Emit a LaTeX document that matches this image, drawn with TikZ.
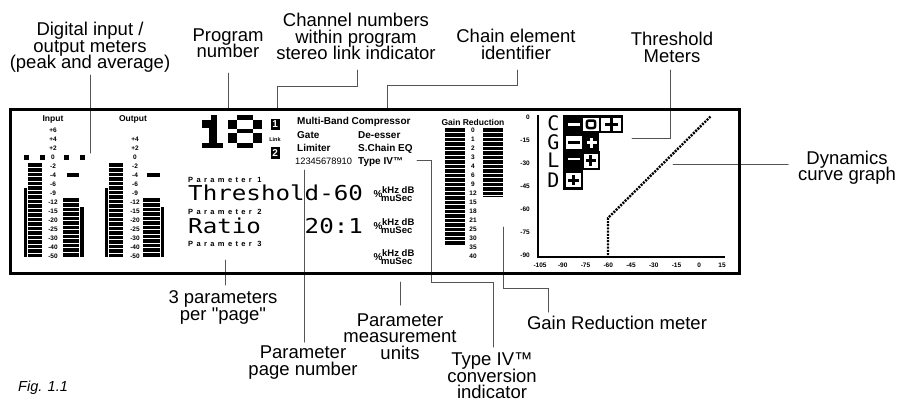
\documentclass[tikz,border=0pt]{standalone}
\usepackage{fontspec}
\setmainfont{Liberation Sans}
\newfontfamily\lblfont[Ligatures=TeXOff]{Liberation Sans}
\newfontfamily\lcdfont[FakeStretch=1.18]{DejaVu Sans Mono}
\newfontfamily\lcdnarrow{DejaVu Sans Mono}
\usetikzlibrary{calc}
\usepackage{tkz-euclide}
\definecolor{LeaderClr}{rgb}{0.33,0.33,0.33}

% segmented bar: x1,y1,x2,y2
\newcommand\lcdbar[4]{%
  \fill (#1,#2) rectangle (#3,#4);
  \pgfmathtruncatemacro\nseg{(#4-#2-1)/4.5}
  \foreach \k in {1,...,\nseg}
    \draw[white,line width=0.7pt] (#1,#2+4.5*\k) -- (#3,#2+4.5*\k);}
% plus and minus signs: centre x, centre y, half length, colour
\newcommand\lcdplus[4]{%
  \fill[#4] (#1-#3,#2-1.5) rectangle (#1+#3,#2+1.5);
  \fill[#4] (#1-1.5,#2-#3) rectangle (#1+1.5,#2+#3);}
\newcommand\lcdminus[3]{%
  \fill[#3] (#1-6,#2-1.3) rectangle (#1+6,#2+1.3);}

\begin{document}
\begin{tikzpicture}[x=1pt,y=-1pt,
  lbl/.style={align=center,inner sep=0pt,font={\lblfont\fontsize{18.5}{17.5}\selectfont}},
  scl/.style={inner sep=0pt,font=\bfseries\fontsize{6.5}{7}\selectfont},
  hdr/.style={inner sep=0pt,font=\bfseries\fontsize{8.5}{9}\selectfont},
  chain/.style={inner sep=0pt,anchor=base west,font=\bfseries\fontsize{10}{11}\selectfont},
  lcd/.style={inner sep=0pt,anchor=base west,font=\lcdfont\fontsize{20.5}{21}\selectfont},
  parm/.style={inner sep=0pt,anchor=base west,font=\bfseries\fontsize{7.5}{8}\selectfont\addfontfeature{LetterSpace=45}},
  unit/.style={inner sep=0pt,anchor=base west,font=\bfseries\fontsize{10}{10}\selectfont}]
\useasboundingbox (0,0) rectangle (900,402);

\tkzSetUpLine[line width=1pt,color=LeaderClr]

% leader points
\tkzDefPoints{90/75/D1,90/153/D2,228/73/P1,228/109/P2}
\tkzDefPoints{357/70/C1,357/86/C2,277/86/C3,277/109/C4}
\tkzDefPoints{517/70/E1,517/85/E2,387/85/E3,387/109/E4}
\tkzDefPoints{670/70/T1,670/138/T2,632/138/T3,788/164/Y1,673/164/Y2}
\tkzDefPoints{225/285/A1,225/260/A2,304/342/N1,304/170/N2,400/305/U1,400/282/U2}
\tkzDefPoints{493/347/V1,493/282/V2,431/282/V3,431/160/V4,417/160/V5}
\tkzDefPoints{548/312/G1,548/288/G2,503/288/G3,503/227/G4}
% graph points
\tkzDefPoints{538/115/Ytop,538/257/Orig,725/257/Xend}
\tkzDefPoints{608/255/K0,608/218/K1,711/116/K2}

\tkzDrawSegments(D1,D2 P1,P2 A1,A2 N1,N2 U1,U2 Y1,Y2)
\tkzDrawPolySeg(C1,C2,C3,C4)
\tkzDrawPolySeg(E1,E2,E3,E4)
\tkzDrawPolySeg(T1,T2,T3)
\tkzDrawPolySeg(V1,V2,V3,V4,V5)
\tkzDrawPolySeg(G1,G2,G3,G4)

\draw[line width=3pt] (10,109) rectangle (739,273);

% input / output meters
\node[hdr] (hIn) at (53,119) {Input};
\node[hdr] (hOut) at (133,119) {Output};
\foreach \v [count=\i from 0] in {+6,+4,+2,0,-2,-4,-6,-9,-12,-15,-20,-25,-30,-40,-50}
  \node[scl] (in\i) at (53,130+9*\i) {\v};
\foreach \v [count=\i from 1] in {+4,+2,0,-2,-4,-6,-9,-12,-15,-20,-25,-30,-40,-50}
  \node[scl] (out\i) at (135,130+9*\i) {\v};
\foreach \xx in {24,40,64,80}
  \fill (\xx,155) rectangle ++(4.5,4.5);
\fill (24,188) rectangle (27.3,257);
\lcdbar{28.3}{163}{41.7}{257}
\fill (66.7,173) rectangle (79.3,176.5);
\lcdbar{63.3}{198}{79.3}{257}
\fill (80.3,207) rectangle (83.5,257);
\fill (105,188) rectangle (108.3,257);
\lcdbar{109.3}{163}{123}{257}
\fill (146.7,173) rectangle (160,176.5);
\lcdbar{143.3}{198}{160}{257}
\fill (161,207) rectangle (164.2,257);

% program number 18
\foreach \a/\b/\c/\d in {210.7/115/216.7/120,201.7/120/209.3/128.3,209.3/120/216.7/143.3,
  201.7/143.3/223.3/148.3,237/115/253/120,228/120/237/129,253/120/262/129,
  237/129/253/133,228/133/237/143,253/133/262/143,237/143/253/148}
  \fill (\a,\b) rectangle (\c,\d);

% channel numbers
\fill (270.5,118.5) rectangle (280,130);
\node[white,inner sep=0pt,font=\bfseries\fontsize{10}{10}\selectfont] (ch1) at (275.2,124.3) {1};
\node[inner sep=0pt,font=\bfseries\fontsize{5.5}{6}\selectfont] (link) at (275,140) {Link};
\fill (270.5,147) rectangle (280,158.5);
\node[white,inner sep=0pt,font=\bfseries\fontsize{10}{10}\selectfont] (ch2) at (275.2,152.8) {2};

% chain elements
\node[chain] (cMB) at (297,124.5) {Multi-Band Compressor};
\node[chain] (cGate) at (297,138.5) {Gate};
\node[chain] (cDe) at (358,138.5) {De-esser};
\node[chain] (cLim) at (297,151.5) {Limiter};
\node[chain] (cSC) at (358,151.5) {S.Chain EQ};
\node[chain,font=\fontsize{9.3}{10}\selectfont] (cNum) at (295,164.5) {12345678910};
\node[chain] (cType) at (358,164.5) {Type IV™};

% parameters
\node[parm] (p1) at (188,182) {Parameter 1};
\node[lcd] (v1) at (188,200) {Threshold-60};
\node[parm] (p2) at (188,214) {Parameter 2};
\node[lcd] (v2a) at (188,233) {Ratio};
\node[lcd] (v2b) at (304.5,233) {20:1};
\node[parm] (p3) at (188,246) {Parameter 3};
\foreach \yy [count=\i] in {193,225,256}{
  \node[unit] (pc\i) at (373.5,\yy+4) {\%};
  \node[unit,font=\bfseries\fontsize{9.5}{10}\selectfont] (khz\i) at (382,\yy) {kHz dB};
  \node[unit,font=\bfseries\fontsize{9.5}{10}\selectfont] (mus\i) at (381,\yy+8) {muSec};
}

% gain reduction
\node[hdr] (hGR) at (473,122) {Gain Reduction};
\foreach \v [count=\i from 0] in {0,1,2,3,4,6,9,12,15,18,21,25,30,35,40}
  \node[scl] (gr\i) at (473,130+9*\i) {\v};
\lcdbar{445}{128}{465}{245}
\lcdbar{483}{128}{503}{197}

% threshold meters
\foreach \l/\yy [count=\i] in {C/123.5,G/142,L/160.5,D/180.5}
  \node[inner sep=0pt,font=\lcdnarrow\fontsize{20}{20}\selectfont] (th\i) at (553.5,\yy) {\l};
% C row
\fill (563,115) rectangle (623,133);
\lcdminus{574}{124.5}{white}
\fill[white] (583,117.5) rectangle (599,131);
\draw[line width=2.5pt,rounded corners=2pt] (586.8,120.5) rectangle (595.2,128);
\fill[white] (601,117.5) rectangle (621,131);
\lcdplus{611}{124.3}{6.5}{black}
% G row
\fill (563,133) rectangle (599,151);
\fill[white] (566,136) rectangle (581.5,149);
\lcdminus{573.8}{142.5}{black}
\lcdplus{591.5}{142.5}{5}{white}
% L row
\fill (563,151) rectangle (600,170);
\lcdminus{574}{158.8}{white}
\fill[white] (584,153.5) rectangle (597.5,167.5);
\lcdplus{590.8}{160.5}{5.2}{black}
% D row
\fill (563,170) rectangle (583,190);
\fill[white] (566,173) rectangle (580.5,187);
\lcdplus{573.3}{180}{5.2}{black}

% dynamics graph
\draw[line width=2.5pt] (Ytop) -- (Orig) -- (Xend);
\foreach \v [count=\i from 0] in {0,-15,-30,-45,-60,-75,-90}
  \node[scl,anchor=east] (ya\i) at (530,117+23.1*\i) {\v};
\foreach \v [count=\i from 0] in {-105,-90,-75,-60,-45,-30,-15,0,15}
  \node[scl] (xa\i) at (540+22.75*\i,265) {\v};
\draw[line width=2.4pt,dash pattern=on 2pt off 1.2pt] (K0) -- (K1) -- (K2);

% labels
\node[lbl] (tDigital) at (90,47.5) {Digital input /\\[-1.1pt]output meters\\[-1.1pt](peak and average)};
\node[lbl] (tProgram) at (228,43.5) {Program\\[-1.1pt]number};
\node[lbl] (tChannel) at (356,36.5) {Channel numbers\\[-1.1pt]within program\\[-1.1pt]stereo link indicator};
\node[lbl] (tChain) at (516,44.5) {Chain element\\[-1.1pt]identifier};
\node[lbl] (tThresh) at (672,47.5) {Threshold\\[-1.1pt]Meters};
\node[lbl] (tDynamics) at (847,167.5) {Dynamics\\[-1.1pt]curve graph};
\node[lbl] (tThree) at (223,307.5) {3 parameters\\[-1.1pt]per "page"};
\node[lbl] (tPage) at (303,362.5) {Parameter\\[-1.1pt]page number};
\node[lbl] (tUnits) at (400,336.5) {Parameter\\[-1.1pt]measurement\\[-1.1pt]units};
\node[lbl] (tTypeIV) at (492,376) {Type IV™\\[-1.1pt]conversion\\[-1.1pt]indicator};
\node[lbl] (tGR) at (617,323) {Gain Reduction meter};
\node[anchor=west,inner sep=0pt,font=\itshape\fontsize{14.5}{15}\selectfont] (tFig) at (18,388) {Fig. 1.1};

\end{tikzpicture}
\end{document}
